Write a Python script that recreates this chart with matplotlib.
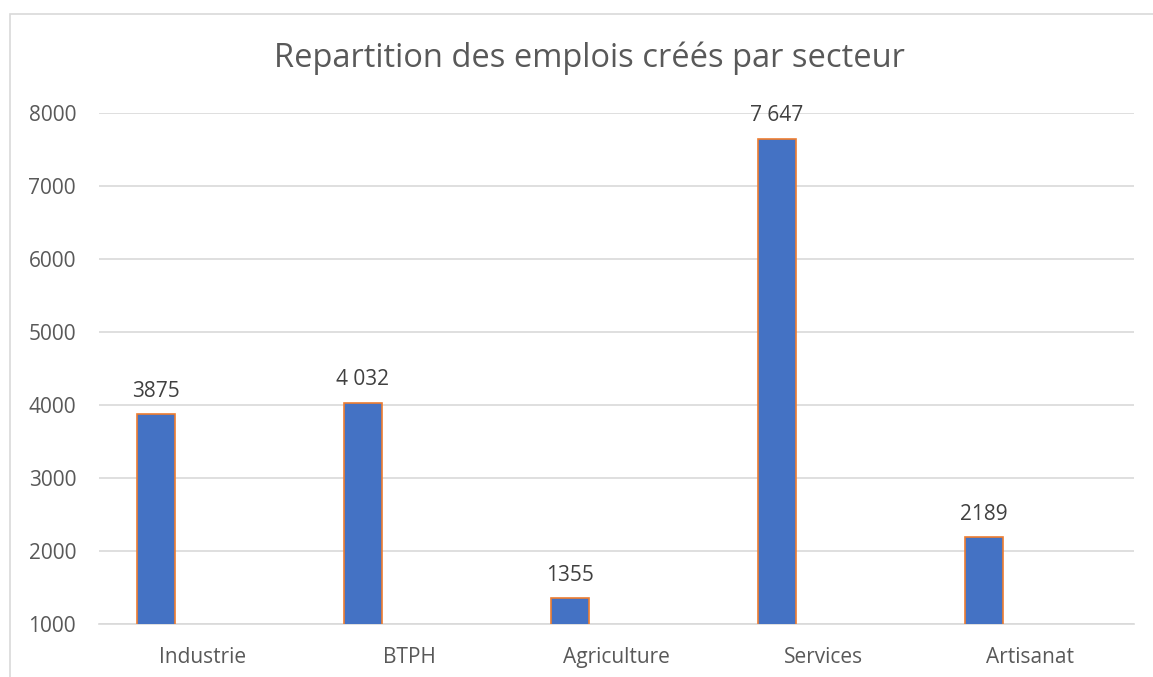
import matplotlib
matplotlib.use("Agg")
import matplotlib.pyplot as plt
from matplotlib.patches import Rectangle

categories = ["Industrie", "BTPH", "Agriculture", "Services", "Artisanat"]
values = [3875, 4032, 1355, 7647, 2189]
labels = ["3875", "4 032", "1355", "7 647", "2189"]
yticks = [1000, 2000, 3000, 4000, 5000, 6000, 7000, 8000]

plt.rcParams['font.family'] = ['Open Sans', 'DejaVu Sans']

W, H = 1153, 677
fig = plt.figure(figsize=(W / 100, H / 100), dpi=100)
fig.patch.set_facecolor("white")

# outer frame
fig.patches.append(Rectangle((10 / W, -0.1), 1.2, (H - 14) / H + 0.1, transform=fig.transFigure,
                             fill=False, edgecolor="#D9D9D9", linewidth=1.2))

left, right = 99 / W, 1134 / W
bottom, top = 1 - 624 / H, 1 - 113 / H
ax = fig.add_axes([left, bottom, right - left, top - bottom])

x = list(range(len(categories)))
offset = -0.225
width = 0.18
xs = [i + offset for i in x]
ax.bar(xs, values, width=width, color="#4472C4", edgecolor="#ED7D31", linewidth=1.2, zorder=3)

for xi, v, lab in zip(xs, values, labels):
    ax.annotate(lab, (xi, v), xytext=(0, 9), textcoords="offset points",
                ha="center", va="bottom", fontsize=15, color="#404040", zorder=4)

ax.set_xlim(-0.5, len(categories) - 0.5)
ax.set_ylim(1000, 8000)
ax.set_yticks(yticks)
ax.set_yticklabels([str(t) for t in yticks])
ax.set_xticks(x)
ax.set_xticklabels(categories)
ax.tick_params(axis="both", length=0, labelsize=15, labelcolor="#595959")
ax.tick_params(axis="x", pad=16.5)
ax.tick_params(axis="y", pad=16.5)
ax.grid(axis="y", color="#D9D9D9", linewidth=1.2, zorder=0)
for s in ["top", "right", "left"]:
    ax.spines[s].set_visible(False)
ax.spines["bottom"].set_color("#D9D9D9")
ax.spines["bottom"].set_linewidth(1.2)

fig.text(0.5 * (274 + 904) / W, 1 - 58 / H, "Repartition des emplois créés par secteur",
         ha="center", va="center", fontsize=23.5, color="#595959")

fig.savefig("out.png", dpi=100)
